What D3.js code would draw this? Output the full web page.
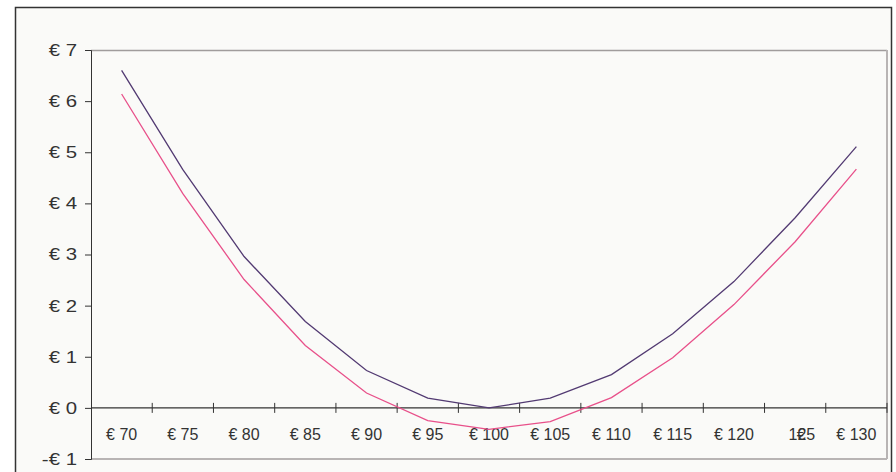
<!DOCTYPE html>
<html>
<head>
<meta charset="utf-8">
<script src="https://cdn.jsdelivr.net/npm/d3@7"></script>
<style>
  body { margin: 0; background: #fff; }
  svg { display: block; font-family: "Liberation Sans", Arial, sans-serif; }
</style>
</head>
<body>
<svg width="896" height="472"></svg>
<script>
// strike prices (categories)
var strikes = [70, 75, 80, 85, 90, 95, 100, 105, 110, 115, 120, 125, 130];
// upper (dark) series
var seriesA = [6.60, 4.66, 2.96, 1.69, 0.73, 0.19, 0.00, 0.19, 0.65, 1.45, 2.47, 3.72, 5.11];
// lower (pink) series
var seriesB = [6.14, 4.19, 2.51, 1.22, 0.29, -0.25, -0.42, -0.27, 0.20, 0.98, 2.02, 3.25, 4.67];
var yTicks = [-1, 0, 1, 2, 3, 4, 5, 6, 7];

var svg = d3.select("svg");

// outer frame
svg.append("rect")
    .attr("x", 15.5).attr("y", 7.5)
    .attr("width", 876).attr("height", 480)
    .attr("fill", "#fafaf8")
    .attr("stroke", "#333").attr("stroke-width", 1.5);

var plotLeft = 91, plotRight = 887, plotTop = 50, plotBottom = 459;

var x = d3.scaleBand().domain(strikes).range([plotLeft, plotRight]);
var y = d3.scaleLinear().domain([-1, 7]).range([plotBottom, plotTop]);

// plot border (gray)
svg.append("line").attr("x1", plotLeft).attr("x2", plotRight).attr("y1", plotTop + 0.5).attr("y2", plotTop + 0.5)
    .attr("stroke", "#a09c9c").attr("stroke-width", 1.5);
svg.append("line").attr("x1", plotRight).attr("x2", plotRight).attr("y1", plotTop).attr("y2", plotBottom)
    .attr("stroke", "#b8b4b4").attr("stroke-width", 2);
svg.append("line").attr("x1", plotLeft).attr("x2", plotRight).attr("y1", plotBottom).attr("y2", plotBottom)
    .attr("stroke", "#b8b4b4").attr("stroke-width", 2);

// y axis (labels slightly stretched like the original export)
var stretch = 1.2;
var yAxis = d3.axisLeft(y).tickValues(yTicks).tickSize(6).tickPadding(8)
    .tickFormat(function(d) { return d < 0 ? "-€ " + Math.abs(d) : "€ " + d; });
var gy = svg.append("g").attr("transform", "translate(" + plotLeft + ",0)").call(yAxis);
gy.select(".domain").attr("stroke", "#333");
gy.selectAll(".tick line").attr("stroke", "#333");
gy.selectAll(".tick text").attr("fill", "#333").attr("font-size", 17)
    .attr("font-family", "Liberation Sans, Arial, sans-serif")
    .attr("x", -14 / stretch)
    .attr("transform", "scale(" + stretch + ",1)");

// x axis at zero, ticks crossing between categories
var zeroY = y(0);
svg.append("line").attr("x1", plotLeft).attr("x2", plotRight).attr("y1", zeroY).attr("y2", zeroY)
    .attr("stroke", "#333").attr("stroke-width", 1.2);
var bounds = strikes.slice(1).map(function(s) { return x(s); }).concat([plotRight]);
svg.selectAll(".xtick").data(bounds).enter().append("line")
    .attr("x1", function(d) { return d; }).attr("x2", function(d) { return d; })
    .attr("y1", zeroY - 5).attr("y2", zeroY + 5)
    .attr("stroke", "#333").attr("stroke-width", 1);

var labels = svg.selectAll(".xlabel").data(strikes).enter().append("text")
    .attr("x", function(d) { return x(d) + x.bandwidth() / 2; })
    .attr("y", zeroY + 32)
    .attr("text-anchor", "middle")
    .attr("font-size", 16)
    .attr("fill", "#333");
// in the original the 125 label has its euro sign drawn on top of the digits
labels.append("tspan").attr("fill-opacity", function(d) { return d === 125 ? 0 : 1; }).text("€");
labels.append("tspan").text(function(d) { return " " + d; });
svg.append("text")
    .attr("x", x(125) + x.bandwidth() / 2 + 6)
    .attr("y", zeroY + 32)
    .attr("text-anchor", "middle")
    .attr("font-size", 16)
    .attr("fill", "#333")
    .text("€");

var line = d3.line()
    .x(function(d, i) { return x(strikes[i]) + x.bandwidth() / 2; })
    .y(function(d) { return y(d); });

svg.append("path").datum(seriesA).attr("d", line)
    .attr("fill", "none").attr("stroke", "#523a72").attr("stroke-width", 1.3);
svg.append("path").datum(seriesB).attr("d", line)
    .attr("fill", "none").attr("stroke", "#e8508a").attr("stroke-width", 1.3);
</script>
</body>
</html>
